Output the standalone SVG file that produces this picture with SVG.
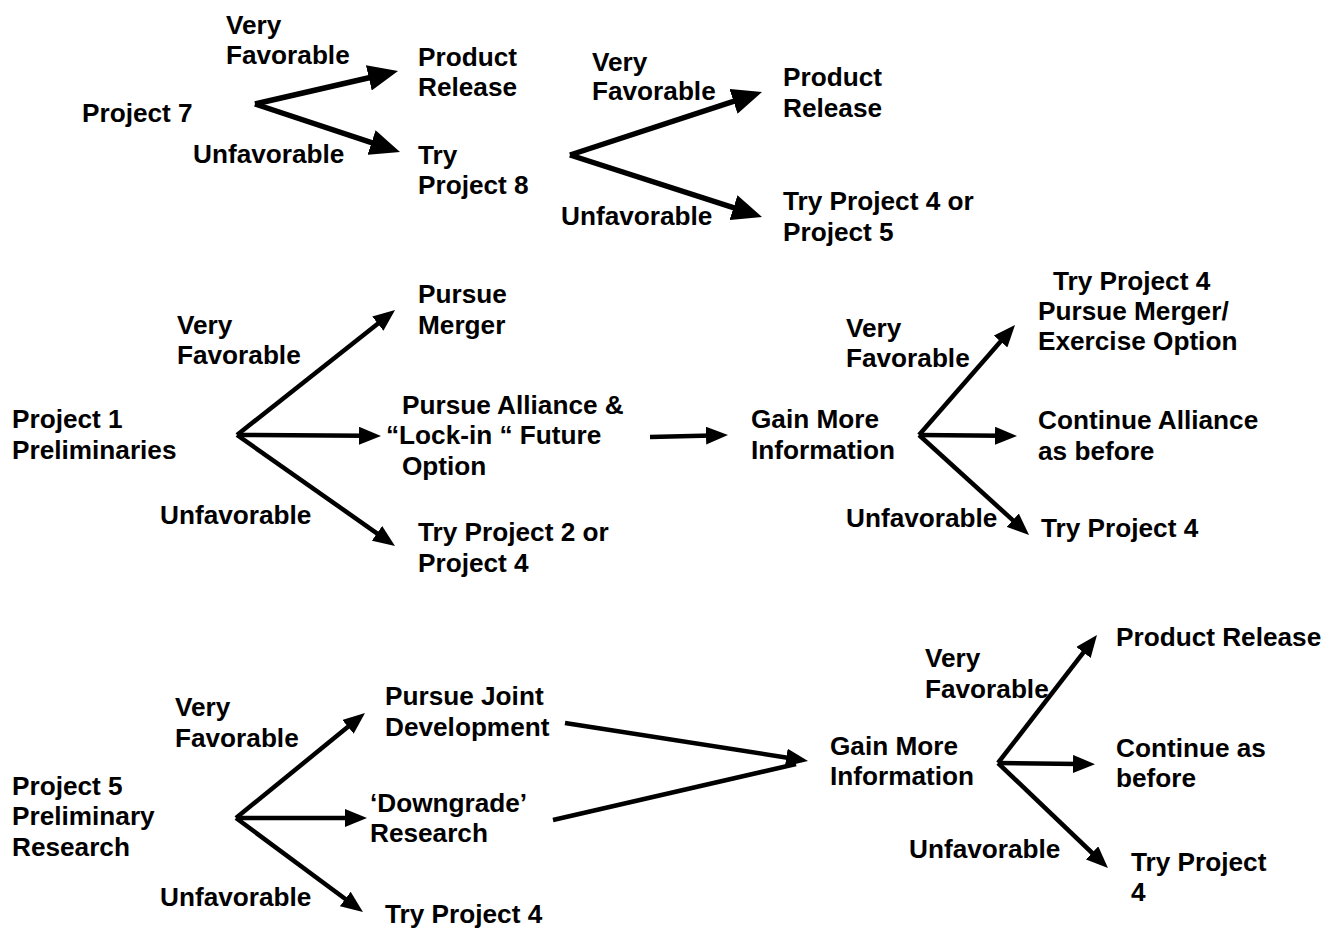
<svg xmlns="http://www.w3.org/2000/svg" width="1329" height="928" viewBox="0 0 1329 928">
  <defs>
    <style>
      .t { font-family: "Liberation Sans", Arial, sans-serif; font-weight: bold; font-size: 26.2px; fill: #000; }
      .big { stroke: #000; stroke-width: 5.5; fill: none; marker-end: url(#headBig); }
      .sm { stroke: #000; stroke-width: 4.5; fill: none; marker-end: url(#headSm); }
      .plain { stroke: #000; stroke-width: 4.5; fill: none; }
    </style>
    <marker id="headBig" markerUnits="userSpaceOnUse" viewBox="0 0 30 26" markerWidth="30" markerHeight="26" refX="8" refY="13" orient="auto">
      <path d="M0,0 L30,13 L0,26 z" fill="#000"/>
    </marker>
    <marker id="headSm" markerUnits="userSpaceOnUse" viewBox="0 0 22 18" markerWidth="22" markerHeight="18" refX="6" refY="9" orient="auto">
      <path d="M0,0 L22,9 L0,18 z" fill="#000"/>
    </marker>
  </defs>
  <rect width="1329" height="928" fill="#fff"/>

  <!-- connectors -->
  <g id="connectors">
    <!-- Project 7 tree -->
    <line class="big" x1="255" y1="104" x2="376.6" y2="76"/>
    <line class="big" x1="255" y1="104" x2="379.1" y2="145.1"/>
    <line class="big" x1="570" y1="155" x2="741.1" y2="98.9"/>
    <line class="big" x1="570" y1="155" x2="741.1" y2="210.2"/>
    <!-- Project 1 tree -->
    <line class="sm" x1="237" y1="435" x2="382.5" y2="319.9"/>
    <line class="sm" x1="237" y1="435" x2="365" y2="435.8"/>
    <line class="sm" x1="237" y1="435" x2="381.9" y2="536.8"/>
    <line class="sm" x1="650" y1="437" x2="712" y2="435.4"/>
    <line class="sm" x1="919" y1="435" x2="1004.5" y2="337"/>
    <line class="sm" x1="919" y1="435" x2="1001" y2="435.8"/>
    <line class="sm" x1="919" y1="435" x2="1017.2" y2="524.2"/>
    <!-- Project 5 tree -->
    <line class="sm" x1="236" y1="818" x2="352.6" y2="723.1"/>
    <line class="sm" x1="236" y1="818" x2="351" y2="818"/>
    <line class="sm" x1="236" y1="818" x2="350.1" y2="902.5"/>
    <line class="sm" x1="565" y1="723" x2="792.2" y2="758.5"/>
    <line class="plain" x1="553" y1="820" x2="796" y2="764"/>
    <line class="sm" x1="998" y1="763" x2="1087.2" y2="647.7"/>
    <line class="sm" x1="998" y1="763" x2="1079" y2="764"/>
    <line class="sm" x1="998" y1="763" x2="1096.4" y2="857"/>
  </g>

  <!-- Project 7 tree -->
  <g id="p7-root"><text class="t" x="82" y="122">Project 7</text></g>
  <g id="p7-fav"><text class="t" x="226" y="34">Very</text><text class="t" x="226" y="64">Favorable</text></g>
  <g id="p7-unfav"><text class="t" x="193" y="163">Unfavorable</text></g>
  <g id="p7-release"><text class="t" x="418" y="66">Product</text><text class="t" x="418" y="96">Release</text></g>
  <g id="p7-try8"><text class="t" x="418" y="164">Try</text><text class="t" x="418" y="194">Project 8</text></g>
  <g id="p8-fav"><text class="t" x="592" y="71">Very</text><text class="t" x="592" y="100">Favorable</text></g>
  <g id="p8-unfav"><text class="t" x="561" y="225">Unfavorable</text></g>
  <g id="p8-release"><text class="t" x="783" y="86">Product</text><text class="t" x="783" y="117">Release</text></g>
  <g id="p8-try"><text class="t" x="783" y="210">Try Project 4 or</text><text class="t" x="783" y="241">Project 5</text></g>

  <!-- Project 1 tree -->
  <g id="p1-root"><text class="t" x="12" y="428">Project 1</text><text class="t" x="12" y="459">Preliminaries</text></g>
  <g id="p1-fav"><text class="t" x="177" y="334">Very</text><text class="t" x="177" y="364">Favorable</text></g>
  <g id="p1-unfav"><text class="t" x="160" y="524">Unfavorable</text></g>
  <g id="p1-merger"><text class="t" x="418" y="303">Pursue</text><text class="t" x="418" y="334">Merger</text></g>
  <g id="p1-alliance"><text class="t" x="402" y="414">Pursue Alliance &amp;</text><text class="t" x="386" y="444">“Lock-in “ Future</text><text class="t" x="402" y="475">Option</text></g>
  <g id="p1-try"><text class="t" x="418" y="541">Try Project 2 or</text><text class="t" x="418" y="572">Project 4</text></g>
  <g id="p1-info"><text class="t" x="751" y="428">Gain More</text><text class="t" x="751" y="459">Information</text></g>
  <g id="p1i-fav"><text class="t" x="846" y="337">Very</text><text class="t" x="846" y="367">Favorable</text></g>
  <g id="p1i-unfav"><text class="t" x="846" y="527">Unfavorable</text></g>
  <g id="p1i-merger"><text class="t" x="1053" y="290">Try Project 4</text><text class="t" x="1038" y="320">Pursue Merger/</text><text class="t" x="1038" y="350">Exercise Option</text></g>
  <g id="p1i-continue"><text class="t" x="1038" y="429">Continue Alliance</text><text class="t" x="1038" y="460">as before</text></g>
  <g id="p1i-try"><text class="t" x="1041" y="537">Try Project 4</text></g>

  <!-- Project 5 tree -->
  <g id="p5-root"><text class="t" x="12" y="795">Project 5</text><text class="t" x="12" y="825">Preliminary</text><text class="t" x="12" y="856">Research</text></g>
  <g id="p5-fav"><text class="t" x="175" y="716">Very</text><text class="t" x="175" y="747">Favorable</text></g>
  <g id="p5-unfav"><text class="t" x="160" y="906">Unfavorable</text></g>
  <g id="p5-joint"><text class="t" x="385" y="705">Pursue Joint</text><text class="t" x="385" y="736">Development</text></g>
  <g id="p5-downgrade"><text class="t" x="370" y="812">‘Downgrade’</text><text class="t" x="370" y="842">Research</text></g>
  <g id="p5-try"><text class="t" x="385" y="923">Try Project 4</text></g>
  <g id="p5-info"><text class="t" x="830" y="755">Gain More</text><text class="t" x="830" y="785">Information</text></g>
  <g id="p5i-fav"><text class="t" x="925" y="667">Very</text><text class="t" x="925" y="698">Favorable</text></g>
  <g id="p5i-unfav"><text class="t" x="909" y="858">Unfavorable</text></g>
  <g id="p5i-release"><text class="t" x="1116" y="646">Product Release</text></g>
  <g id="p5i-continue"><text class="t" x="1116" y="757">Continue as</text><text class="t" x="1116" y="787">before</text></g>
  <g id="p5i-try"><text class="t" x="1131" y="871">Try Project</text><text class="t" x="1131" y="901">4</text></g>
</svg>
